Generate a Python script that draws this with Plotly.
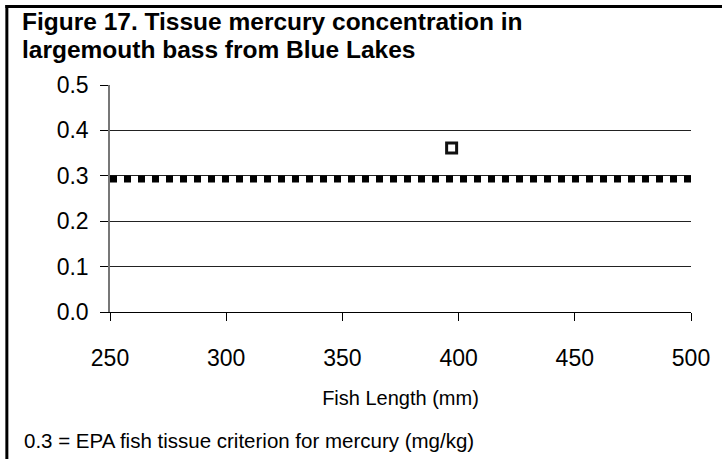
import plotly.graph_objects as go

# Data
fish_length = [397]
mercury = [0.361]
criterion_x = [250, 500]
criterion_y = [0.293, 0.293]
x_ticks = [250, 300, 350, 400, 450, 500]
y_ticks = [0.0, 0.1, 0.2, 0.3, 0.4, 0.5]

FONT = "Liberation Sans, Arial, sans-serif"

fig = go.Figure()

fig.add_trace(go.Scatter(
    x=criterion_x, y=criterion_y, mode="lines",
    line=dict(color="black", width=7, dash="7px,7px"),
    showlegend=False, hoverinfo="skip",
))

fig.add_trace(go.Scatter(
    x=fish_length, y=mercury, mode="markers",
    marker=dict(symbol="square", size=10, color="white",
                line=dict(color="#111111", width=3)),
    showlegend=False,
))

L, R, T, B = 110, 29, 85, 147
W, H = 722, 459
pw = W - L - R
ph = H - T - B


def px_x(p):
    return (p - L) / pw


def px_y(p):
    return (H - B - p) / ph


fig.update_layout(
    width=W, height=H,
    margin=dict(l=L, r=R, t=T, b=B, pad=0),
    paper_bgcolor="white", plot_bgcolor="white",
    font=dict(family=FONT, size=20, color="black"),
    xaxis=dict(
        range=[250, 500], tickvals=x_ticks, ticktext=[str(v) for v in x_ticks],
        showgrid=False, zeroline=False,
        showline=True, linecolor="black", linewidth=1,
        ticks="outside", ticklen=8, tickcolor="black", tickwidth=1,
        tickfont=dict(family=FONT, size=23, color="black"),
        ticklabelstandoff=17,
        title=dict(text="Fish Length (mm)", font=dict(family=FONT, size=20, color="black"),
                   standoff=21),
    ),
    yaxis=dict(
        range=[0, 0.5], tickvals=y_ticks, ticktext=[f"{v:.1f}" for v in y_ticks],
        showgrid=True, gridcolor="#222222", gridwidth=1,
        zeroline=False,
        showline=True, linecolor="#777777", linewidth=1.5,
        ticks="outside", ticklen=8, tickcolor="black", tickwidth=1,
        tickfont=dict(family=FONT, size=23, color="black"),
        ticklabelstandoff=7,
    ),
    shapes=[
        dict(type="line", xref="paper", yref="paper",
             x0=px_x(5), x1=px_x(W + 5),
             y0=px_y(6.5), y1=px_y(6.5),
             line=dict(color="black", width=3)),
        dict(type="line", xref="paper", yref="paper",
             x0=px_x(6.5), x1=px_x(6.5),
             y0=px_y(5), y1=px_y(H + 5),
             line=dict(color="black", width=3)),
    ],
    annotations=[
        dict(text="<b>Figure 17. Tissue mercury concentration in</b>",
             xref="paper", yref="paper",
             x=px_x(21), xanchor="left",
             y=px_y(21), yanchor="middle", align="left",
             showarrow=False, borderpad=0,
             font=dict(family=FONT, size=24.5, color="black")),
        dict(text="<b>largemouth bass from Blue Lakes</b>",
             xref="paper", yref="paper",
             x=px_x(21), xanchor="left",
             y=px_y(49), yanchor="middle", align="left",
             showarrow=False, borderpad=0,
             font=dict(family=FONT, size=24.5, color="black")),
        dict(text="0.3 = EPA fish tissue criterion for mercury (mg/kg)",
             xref="paper", yref="paper",
             x=px_x(22), xanchor="left",
             y=px_y(440), yanchor="middle",
             showarrow=False, font=dict(family=FONT, size=20.5, color="black")),
    ],
)

fig.write_html("out.html", config={"displayModeBar": False},
               post_script="document.body.style.margin='0';")
